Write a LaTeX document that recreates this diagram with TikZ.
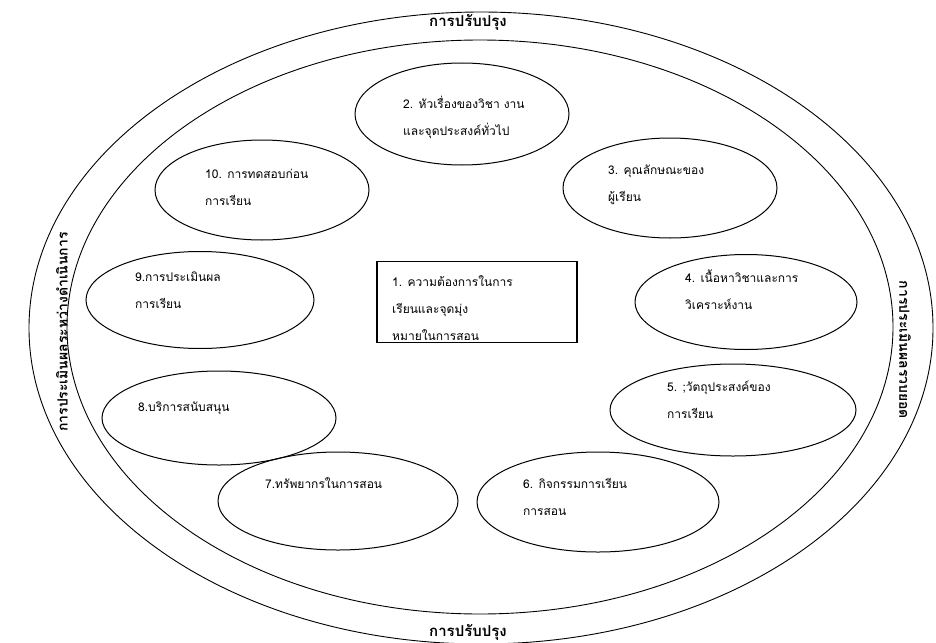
\documentclass[tikz,border=0pt]{standalone}
\usepackage{fontspec}
\newfontfamily\thaifont[Script=Thai]{Loma}
\usetikzlibrary{positioning, shapes}

\tikzset{
  ring/.style={draw, ellipse, line width=0.9pt, inner sep=0pt},
  oval/.style={draw, ellipse, line width=1pt, inner sep=0pt},
  goalbox/.style={draw, rectangle, line width=1.4pt, inner sep=0pt,
                  minimum width=200, minimum height=81},
  txt/.style={anchor=west, align=left, inner sep=0pt,
              font=\thaifont\fontsize{12}{27}\selectfont},
  side/.style={inner sep=0pt, font=\thaifont\bfseries\fontsize{14}{16}\selectfont}
}

\begin{document}
\begin{tikzpicture}[x=1pt, y=-1pt]
        \useasboundingbox (0,0) rectangle (936,642);

        % the two big rings
        \node[ring, minimum width=904, minimum height=632] (outer) at (481,328) {};
        \node[ring, minimum width=826, minimum height=574] (inner) at (480,327) {};

        % ring labels
        \node[side, font=\thaifont\bfseries\fontsize{15}{17}\selectfont] (top) at (468,22) {การปรับปรุง};
        \node[side, font=\thaifont\bfseries\fontsize{15}{17}\selectfont] (bot) at (468,632) {การปรับปรุง};
        \node[side, rotate=90] (lft) at (62,332) {การประเมินผลระหว่างดำเนินการ};
        \node[side, rotate=-90] (rgt) at (905,350) {การประเมินผลรวบยอด};

        % centre box
        \node[goalbox] (e1) at (477,302) {};
        \node[txt] (t1) at (392,308) {1. ความต้องการในการ\\เรียนและจุดมุ่ง\\หมายในการสอน};

        % the ten ovals
        \node[oval, minimum width=214, minimum height=102] (e2) at (462,114) {};
        \node[oval, minimum width=214, minimum height=100] (e3) at (670,188) {};
        \node[oval, minimum width=222, minimum height=95] (e4) at (746,302) {};
        \node[oval, minimum width=246, minimum height=92] (e5) at (733,410) {};
        \node[oval, minimum width=242, minimum height=100] (e6) at (598,502) {};
        \node[oval, minimum width=240, minimum height=98] (e7) at (338,501) {};
        \node[oval, minimum width=234, minimum height=94] (e8) at (219,418) {};
        \node[oval, minimum width=228, minimum height=97] (e9) at (200,300) {};
        \node[oval, minimum width=214, minimum height=100] (e10) at (262,190) {};

        % texts in the ovals
        \node[txt] (t2) at (403,117) {2. หัวเรื่องของวิชา งาน\\และจุดประสงค์ทั่วไป};
        \node[txt] (t3) at (608,185) {3. คุณลักษณะของ\\ผู้เรียน};
        \node[txt] (t4) at (685,290) {4. เนื้อหาวิชาและการ\\วิเคราะห์งาน};
        \node[txt] (t5) at (667,400) {5. ;วัตถุประสงค์ของ\\การเรียน};
        \node[txt] (t6) at (523,497) {6. กิจกรรมการเรียน\\การสอน};
        \node[txt] (t7) at (265,483) {7.ทรัพยากรในการสอน};
        \node[txt] (t8) at (138,408) {8.บริการสนับสนุน};
        \node[txt] (t9) at (135,290) {9.การประเมินผล\\การเรียน};
        \node[txt] (t10) at (205,187) {10. การทดสอบก่อน\\การเรียน};
\end{tikzpicture}
\end{document}
